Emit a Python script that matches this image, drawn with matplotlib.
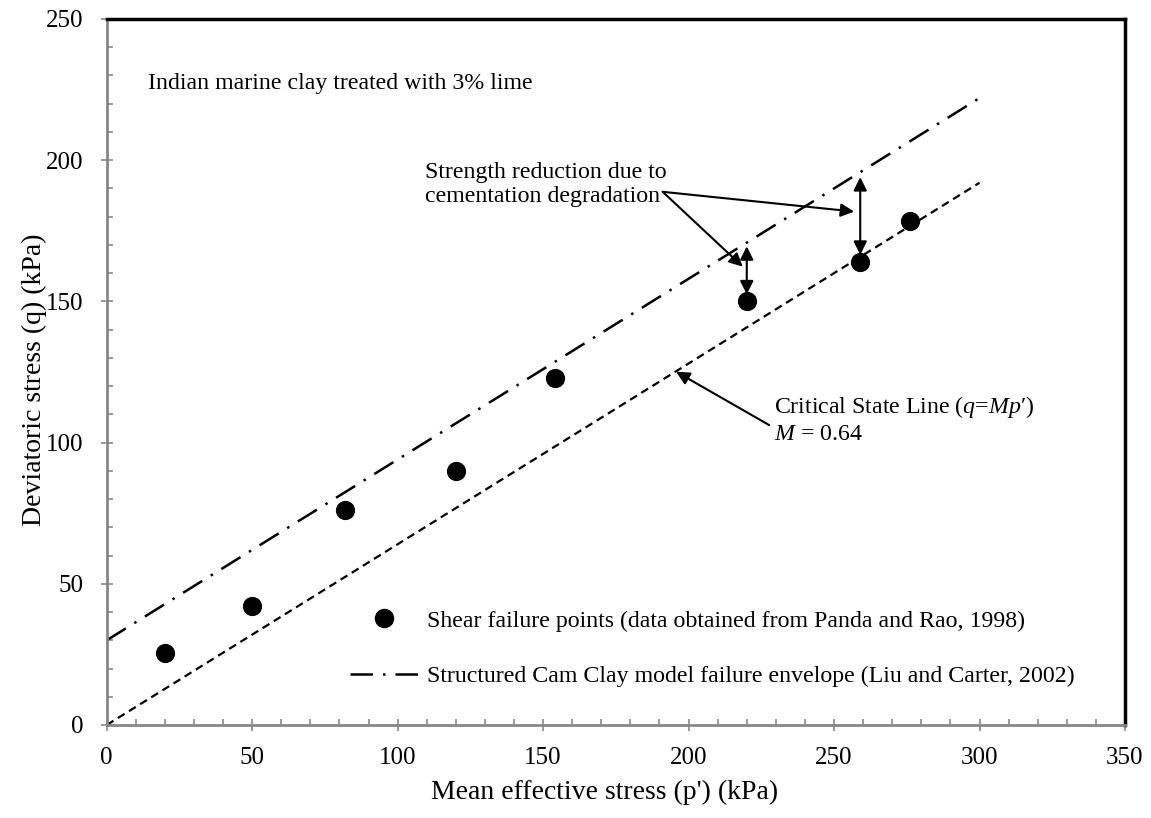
#!/usr/bin/env python3
"""
Deviatoric vs mean effective stress for lime treated Indian marine clay
"""

import matplotlib
matplotlib.use('Agg')
import matplotlib.pyplot as plt
from matplotlib.lines import Line2D

# Shear failure points (Panda and Rao, 1998)
p_fail = [20, 50, 82, 120, 154, 220, 259, 276]
q_fail = [25.5, 42.3, 76, 90, 123, 150, 164, 178.5]

# Critical state line q = M p', M = 0.64
csl_p = [0, 300]
csl_q = [0, 192]

# Structured Cam Clay failure envelope
scc_p = [0, 300]
scc_q = [30, 222]

# strength reduction double arrows
gap_p = [220, 259]
gap_low = [152.5, 166.5]
gap_high = [169.5, 194]

plt.rcParams['font.family'] = ['Liberation Serif', 'DejaVu Serif']
plt.rcParams['mathtext.fontset'] = 'custom'
plt.rcParams['mathtext.rm'] = 'Liberation Serif'
plt.rcParams['mathtext.it'] = 'Liberation Serif:italic'

TXT = 17.2

fig = plt.figure(figsize=(11.51, 8.18), dpi=100)
ax = fig.add_axes([0.0927, 0.1137, 0.8847, 0.8631])

ax.plot(csl_p, csl_q, color='black', lw=1.6, ls=(0, (3.6, 2.3)))
ax.plot(scc_p, scc_q, color='black', lw=1.8, ls=(0, (9, 4, 1, 4)))
ax.scatter(p_fail, q_fail, s=165, color='black', zorder=3)

# double arrows between envelope and failure points
arrow_kw = dict(color='black', lw=1.5, mutation_scale=20, shrinkA=0, shrinkB=0)
for p, lo, hi in zip(gap_p, gap_low, gap_high):
    ax.annotate('', xy=(p, hi), xytext=(p, lo),
                arrowprops=dict(arrowstyle='<|-|>', **arrow_kw))

# strength reduction label with two pointers
ax.text(192.3, 191.4, 'Strength reduction due to\ncementation degradation',
        ha='right', va='center', multialignment='left', fontsize=TXT)
for tip in [(218.6, 162.3), (256.9, 181.8)]:
    ax.annotate('', xy=tip, xytext=(191.1, 188.8),
                arrowprops=dict(arrowstyle='-|>', **arrow_kw))

# critical state line label
ax.annotate('', xy=(195.7, 125.1), xytext=(227.7, 106.2),
            arrowprops=dict(arrowstyle='-|>', **arrow_kw))
ax.text(229.4, 112.7, 'Critical State Line ($q$=$Mp$\u2032)',
        ha='left', va='center', fontsize=TXT)
ax.text(229.4, 102.7, r'$M$ = 0.64', ha='left', va='center', fontsize=TXT)

ax.text(14.2, 227.3, 'Indian marine clay treated with 3% lime',
        ha='left', va='center', fontsize=TXT)

# legend
handles = [
    Line2D([], [], marker='o', ls='none', color='black', markersize=13),
    Line2D([], [], color='black', lw=1.8, ls=(0, (9, 4, 1, 4))),
]
labels = ['Shear failure points (data obtained from Panda and Rao, 1998)',
          'Structured Cam Clay model failure envelope (Liu and Carter, 2002)']
ax.legend(handles, labels, loc='center left',
          bbox_to_anchor=(0.304, 0.2072), bbox_transform=fig.transFigure,
          frameon=False, fontsize=TXT, borderpad=0, borderaxespad=0,
          handlelength=2.85, handletextpad=0.38, labelspacing=1.4)

# axes styling
ax.set_xlim(0, 350)
ax.set_ylim(0, 250)
ax.set_xticks(range(0, 351, 50))
ax.set_xticks(range(0, 351, 10), minor=True)
ax.set_yticks(range(0, 251, 50))
ax.set_yticks(range(0, 251, 10), minor=True)

for side in ['left', 'bottom']:
    ax.spines[side].set_color('#878787')
    ax.spines[side].set_linewidth(2)
for side in ['top', 'right']:
    ax.spines[side].set_color('black')
    ax.spines[side].set_linewidth(2.5)

ax.tick_params(which='major', direction='inout', length=9, width=1.2,
               color='#878787', labelsize=18, pad=11)
ax.tick_params(which='minor', direction='in', length=4, width=1.2,
               color='#878787')
ax.tick_params(axis='y', which='major', pad=12)

ax.set_xlabel("Mean effective stress (p') (kPa)", fontsize=20)
ax.set_ylabel('Deviatoric stress (q) (kPa)', fontsize=20)
ax.xaxis.set_label_coords(0.489, -0.077)
ax.yaxis.set_label_coords(-0.0586, 0.489)

fig.savefig('out.png', dpi=100)
